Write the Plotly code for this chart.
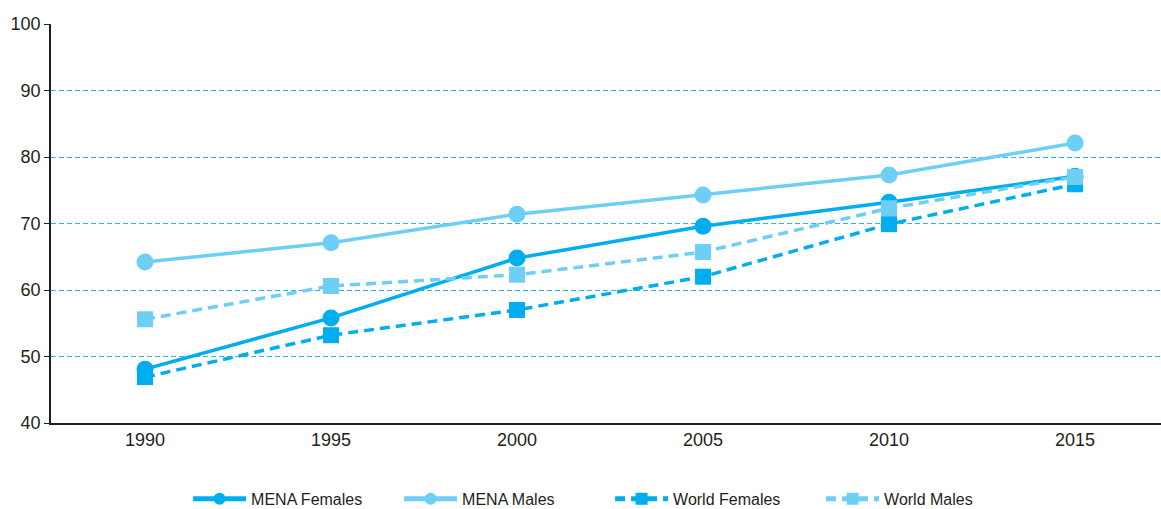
import plotly.graph_objects as go

years = [1990, 1995, 2000, 2005, 2010, 2015]
mena_females = [48.1, 55.8, 64.8, 69.6, 73.2, 77.1]
mena_males = [64.2, 67.1, 71.4, 74.3, 77.3, 82.1]
world_females = [46.9, 53.2, 57.0, 62.0, 69.9, 75.9]
world_males = [55.6, 60.6, 62.3, 65.7, 72.3, 77.0]
y_ticks = [40, 50, 60, 70, 80, 90, 100]

DARK = "#00AEEF"
LIGHT = "#6DCFF6"
GRID = "#29B5EE"

fig = go.Figure()
fig.add_trace(go.Scatter(x=years, y=mena_females, name="MENA Females", mode="lines+markers",
                         line=dict(color=DARK, width=3.5),
                         marker=dict(symbol="circle", size=17, color=DARK)))
fig.add_trace(go.Scatter(x=years, y=mena_males, name="MENA Males", mode="lines+markers",
                         line=dict(color=LIGHT, width=3.5),
                         marker=dict(symbol="circle", size=17, color=LIGHT)))
fig.add_trace(go.Scatter(x=years, y=world_females, name="World Females", mode="lines+markers",
                         line=dict(color=DARK, width=3.5, dash="10px,6px"),
                         marker=dict(symbol="square", size=16, color=DARK)))
fig.add_trace(go.Scatter(x=years, y=world_males, name="World Males", mode="lines+markers",
                         line=dict(color=LIGHT, width=3.5, dash="10px,6px"),
                         marker=dict(symbol="square", size=16, color=LIGHT)))

fig.update_layout(
    width=1161, height=509,
    margin=dict(l=51, r=0, t=24, b=86, autoexpand=False),
    plot_bgcolor="white", paper_bgcolor="white",
    font=dict(family="Liberation Sans, Arial, sans-serif", size=16, color="#231F20"),
    showlegend=True,
    legend=dict(orientation="h", xref="container", yref="container",
                x=0.162, xanchor="left", y=0.02, yanchor="middle",
                font=dict(size=16), entrywidth=143, itemwidth=53, itemsizing="constant"),
)
fig.update_xaxes(range=[1987.473, 2017.31], tickvals=years, ticktext=[str(y) for y in years],
                 showgrid=False, zeroline=False, showline=True, linecolor="#231F20", linewidth=1.5,
                 ticks="", tickfont=dict(size=18))
fig.update_yaxes(range=[40, 100], tickvals=y_ticks, showgrid=True, gridcolor=GRID, gridwidth=1,
                 griddash="5px,3px", zeroline=False, showline=True, linecolor="#231F20", linewidth=1.5,
                 ticks="outside", ticklen=5, tickcolor="#231F20", tickwidth=1, tickfont=dict(size=18))

fig.write_html("out.html")
